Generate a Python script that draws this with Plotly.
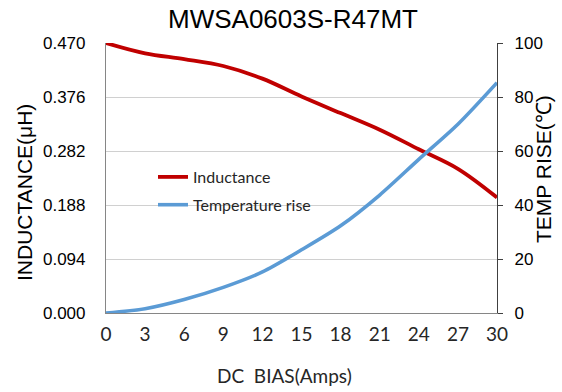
import plotly.graph_objects as go

# ---- data ----
dc_bias = [0, 3, 6, 9, 12, 15, 18, 21, 24, 27, 30]
inductance = [0.470, 0.452, 0.442, 0.430, 0.408, 0.377, 0.348, 0.319, 0.285, 0.251, 0.201]
temp_rise = [0.0, 1.6, 5.0, 9.5, 15.2, 23.4, 32.3, 43.7, 56.9, 69.9, 85.3]

x_ticks = [0, 3, 6, 9, 12, 15, 18, 21, 24, 27, 30]
y_ticks = [0.0, 0.094, 0.188, 0.282, 0.376, 0.470]
y_ticktext = ["0.000", "0.094", "0.188", "0.282", "0.376", "0.470"]
y2_ticks = [0, 20, 40, 60, 80, 100]

title_text = "MWSA0603S-R47MT"
x_title = "DC&nbsp;&nbsp;BIAS(Amps)"
y_title = "INDUCTANCE(μH)"
y2_title = "TEMP RISE(℃)"

RED = "#c00000"
BLUE = "#5b9bd5"
W, H = 562, 392
ML, MR, MT, MB = 106, 65, 43, 79
PW, PH = W - ML - MR, H - MT - MB


def px_x(px):
    return (px - ML) / PW


def px_y(py):
    return (H - MB - py) / PH


fig = go.Figure()
fig.add_trace(go.Scatter(
    x=dc_bias, y=inductance, mode="lines", name="Inductance",
    line=dict(color=RED, width=3.8, shape="spline", smoothing=1.0),
    legendgroup="a", yaxis="y"))
fig.add_trace(go.Scatter(
    x=dc_bias, y=temp_rise, mode="lines", name="Temperature rise",
    line=dict(color=BLUE, width=3.6, shape="spline", smoothing=0.8),
    legendgroup="b", yaxis="y2"))

fig.update_layout(
    width=W, height=H,
    margin=dict(l=ML, r=MR, t=MT, b=MB, pad=0),
    paper_bgcolor="white", plot_bgcolor="white",
    showlegend=True,
    legend=dict(x=px_x(153), y=px_y(191), xanchor="left", yanchor="middle",
                bgcolor="rgba(0,0,0,0)", borderwidth=0,
                font=dict(family="Lato", size=16, color="#262626"),
                tracegroupgap=4, itemwidth=30),
    title=dict(text=title_text, x=293 / W, xref="container",
               xanchor="center", y=1 - 19 / H, yanchor="middle",
               font=dict(family="Liberation Sans, Arial", size=26, color="#000000")),
    xaxis=dict(range=[0, 30], tickvals=x_ticks, showgrid=False, zeroline=False,
               showline=True, linecolor="#868686", linewidth=1.2, ticks="",
               tickfont=dict(family="Lato", size=19, color="#262626"),
               ticklabelstandoff=4),
    yaxis=dict(range=[0, 0.47], tickvals=y_ticks, ticktext=y_ticktext,
               showgrid=True, gridcolor="#d0d0d0", gridwidth=1, zeroline=False,
               showline=True, linecolor="#868686", linewidth=1.2, ticks="",
               tickfont=dict(family="Liberation Sans, Arial", size=17, color="#000000"),
               ticklabelstandoff=16),
    yaxis2=dict(range=[0, 100], tickvals=y2_ticks, overlaying="y", side="right",
                showgrid=False, zeroline=False, showline=True, linecolor="#404040",
                linewidth=1.2, ticks="outside", ticklen=5, tickcolor="#404040",
                tickfont=dict(family="Liberation Sans, Arial", size=17, color="#000000"),
                ticklabelstandoff=8),
    annotations=[
        dict(text=y_title, xref="paper", yref="paper", x=px_x(24), y=px_y(193),
             xanchor="center", yanchor="middle", textangle=-90, showarrow=False,
             font=dict(family="Liberation Sans, Arial", size=21, color="#000000")),
        dict(text=y2_title, xref="paper", yref="paper", x=px_x(543), y=px_y(169),
             xanchor="center", yanchor="middle", textangle=-90, showarrow=False,
             font=dict(family="Liberation Sans, Arial", size=21, color="#000000")),
        dict(text=x_title, xref="paper", yref="paper", x=px_x(284), y=px_y(375),
             xanchor="center", yanchor="middle", showarrow=False,
             font=dict(family="Lato", size=19, color="#262626")),
    ],
)

fig.write_html("out.html", config={"displayModeBar": False},
               post_script="document.body.style.margin='0';")
